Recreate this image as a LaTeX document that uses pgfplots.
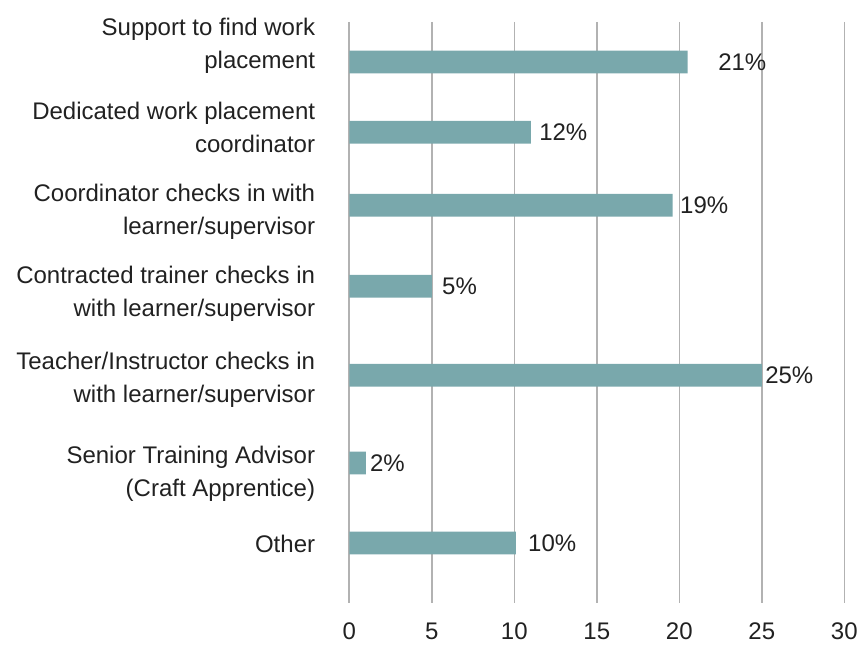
\documentclass[border=0pt]{standalone}
\usepackage{pgfplots}
\pgfplotsset{compat=1.18}
\usepackage{fontspec}
\setmainfont{Liberation Sans}
\definecolor{barcol}{RGB}{121,168,172}
\definecolor{gridcol}{RGB}{178,178,178}
\definecolor{txt}{RGB}{33,33,33}
\begin{document}
\begin{tikzpicture}
\useasboundingbox (0,0) rectangle (859bp,645bp);
\begin{axis}[
  at={(349.3bp,42bp)}, anchor=south west,
  scale only axis, width=495bp, height=581bp,
  xmin=0, xmax=30, ymin=22, ymax=603, y dir=reverse,
  xtick={0,5,...,30},
  ytick={46,127,212,294,380,474,544},
  yticklabels={{Support to find work\\placement},
               {Dedicated work placement\\coordinator},
               {Coordinator checks in with\\learner/supervisor},
               {Contracted trainer checks in\\with learner/supervisor},
               {Teacher/Instructor checks in\\with learner/supervisor},
               {Senior Training Advisor\\(Craft Apprentice)},
               {Other}},
  yticklabel style={align=right, inner sep=0pt, xshift=-34bp,
    font=\fontsize{24bp}{33bp}\selectfont, text=txt},
  xticklabel style={inner sep=0pt, yshift=-20bp,
    font=\fontsize{24bp}{33bp}\selectfont, text=txt},
  /pgf/number format/assume math mode=true,
  xmajorgrids, grid style={draw=gridcol, line width=1.6bp},
  axis line style={draw=none},
  major tick length=0pt,
  clip=false,
]
\addplot[xbar, bar width=22.7bp, bar shift=0pt, fill=barcol, draw=none]
  table[x=v, y=y] {
v y
20.5 62
11.0 132.3
19.6 205.3
5.0 286.3
25.0 375.3
1.0 463
10.1 543
};
\addplot[draw=none, mark=none, nodes near coords={\pgfplotspointmeta\%},
  point meta=explicit symbolic,
  every node near coord/.append style={anchor=west, inner sep=0pt,
    font=\fontsize{24bp}{33bp}\selectfont, text=txt}]
  table[x=x, y=y, meta=lab] {
x y lab
22.35 62 21
11.5 132.3 12
20.04 205.3 19
5.62 286.3 5
25.2 375.3 25
1.25 463 2
10.83 543 10
};
\end{axis}
\end{tikzpicture}
\end{document}
